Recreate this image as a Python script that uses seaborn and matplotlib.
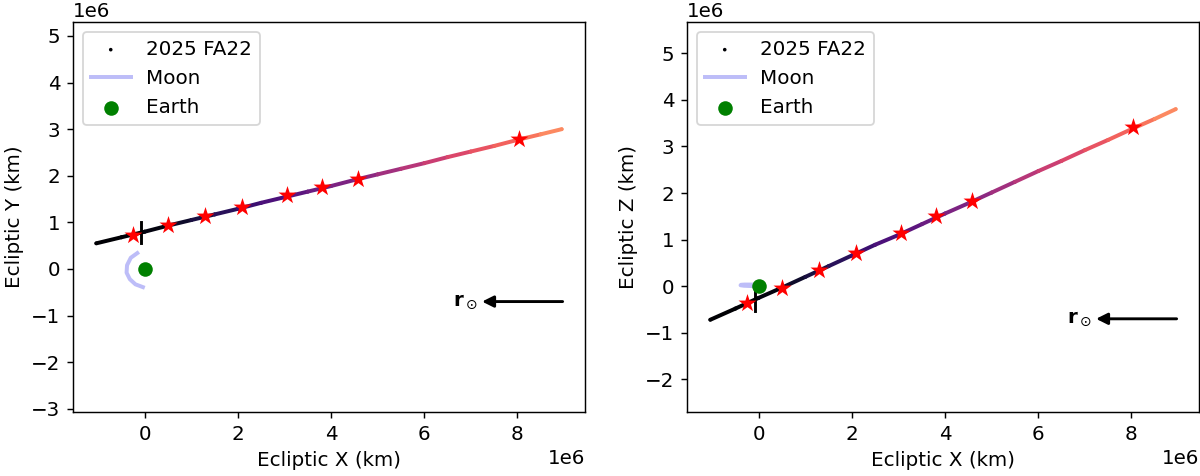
import numpy as np
import matplotlib
matplotlib.use("Agg")
import matplotlib.pyplot as plt
from matplotlib.collections import LineCollection
import seaborn as sns

KM = 1e6  # values below are in units of 1e6 km

# trajectory of 2025 FA22, read along the path (x, y, z) and colour param (time)
traj_x = [-1.04, -0.5, 0.0, 0.5, 1.0, 1.5, 2.0, 2.5, 3.0, 3.5, 4.0,
          4.5, 5.0, 5.5, 6.0, 6.5, 7.0, 7.5, 8.0, 8.5, 8.95]
traj_y = [0.55, 0.68, 0.80, 0.93, 1.05, 1.17, 1.29, 1.42, 1.54, 1.66, 1.78,
          1.91, 2.03, 2.15, 2.27, 2.40, 2.52, 2.64, 2.77, 2.89, 3.00]
traj_z = [-0.72, -0.48, -0.25, -0.03, 0.20, 0.43, 0.66, 0.89, 1.10, 1.33, 1.56,
          1.78, 2.01, 2.24, 2.47, 2.69, 2.92, 3.14, 3.37, 3.59, 3.80]
traj_t = [0.0, 0.01, 0.03, 0.08, 0.12, 0.16, 0.20, 0.24, 0.28, 0.32, 0.36,
          0.40, 0.45, 0.50, 0.55, 0.59, 0.63, 0.67, 0.71, 0.75, 0.78]

# marked epochs (stars)
star_x = [-0.25, 0.50, 1.30, 2.09, 3.06, 3.81, 4.58, 8.03]
star_y = [0.73, 0.94, 1.14, 1.33, 1.59, 1.76, 1.93, 2.79]
star_z = [-0.36, -0.04, 0.34, 0.71, 1.14, 1.50, 1.82, 3.41]

# moon orbit segment
moon_x = [-0.16, -0.30, -0.38, -0.39, -0.32, -0.20, -0.04]
moon_y = [0.34, 0.24, 0.08, -0.08, -0.22, -0.33, -0.39]
moon_z = [0.035, 0.035, 0.03, 0.02, 0.01, 0.005, 0.0]

# uncertainty bar near closest approach
bar_x = [-0.08, -0.08]
bar_y = [0.56, 1.01]
bar_z = [-0.54, -0.09]

# sun direction arrow
sun_tail = 8.97
sun_head = 7.24
sun_level = -0.70

DPI = 130
plt.rcParams['font.size'] = 11
fig = plt.figure(figsize=(1200 / DPI, 476 / DPI), dpi=DPI)
ax1 = fig.add_axes([73 / 1200, 64 / 476, 512 / 1200, 390 / 476])
ax2 = fig.add_axes([687 / 1200, 64 / 476, 512 / 1200, 390 / 476])

panels = [(ax1, traj_y, star_y, moon_y, bar_y, 'Ecliptic Y (km)', (-3.07, 5.30)),
          (ax2, traj_z, star_z, moon_z, bar_z, 'Ecliptic Z (km)', (-2.70, 5.67))]

tx = np.array(traj_x) * KM
for ax, ty, sy, my, by, ylab, ylim in panels:
    ty = np.array(ty) * KM
    pts = np.column_stack([tx, ty]).reshape(-1, 1, 2)
    segs = np.concatenate([pts[:-1], pts[1:]], axis=1)
    lc = LineCollection(segs, cmap='magma', norm=plt.Normalize(0, 1),
                        linewidths=2.2, capstyle='round', zorder=2)
    lc.set_array(np.array(traj_t[:-1]))
    ax.add_collection(lc)
    # tiny dots carry the legend entry
    ax.scatter(tx, ty, c=traj_t, cmap='magma', vmin=0, vmax=1, s=4,
               linewidths=0, label='2025 FA22', zorder=1)

    sns.lineplot(x=np.array(moon_x) * KM, y=np.array(my) * KM, sort=False,
                 estimator=None, color='#bdbdf8', lw=2.2, label='Moon', ax=ax)
    sns.scatterplot(x=[0], y=[0], color='green', s=65, linewidth=0,
                    label='Earth', zorder=5, ax=ax)
    sns.scatterplot(x=np.array(star_x) * KM, y=np.array(sy) * KM, marker='*',
                    color='red', s=110, linewidth=0, zorder=4, ax=ax)
    ax.plot(np.array(bar_x) * KM, np.array(by) * KM, color='black', lw=1.6,
            zorder=3)

    ax.annotate('', xy=(sun_head * KM, sun_level * KM),
                xytext=(sun_tail * KM, sun_level * KM),
                arrowprops=dict(arrowstyle='-|>', color='black', lw=1.6,
                                mutation_scale=13, shrinkA=0, shrinkB=0))
    ax.text((sun_head - 0.08) * KM, sun_level * KM, r'$\mathbf{r}_\odot$',
            ha='right', va='center', fontsize=11)

    ax.set_xlim(-1.54 * KM, 9.45 * KM)
    ax.set_ylim(ylim[0] * KM, ylim[1] * KM)
    ax.set_xlabel('Ecliptic X (km)')
    ax.set_ylabel(ylab)
    ax.legend(loc='upper left')

fig.savefig('out.png', dpi=DPI)
